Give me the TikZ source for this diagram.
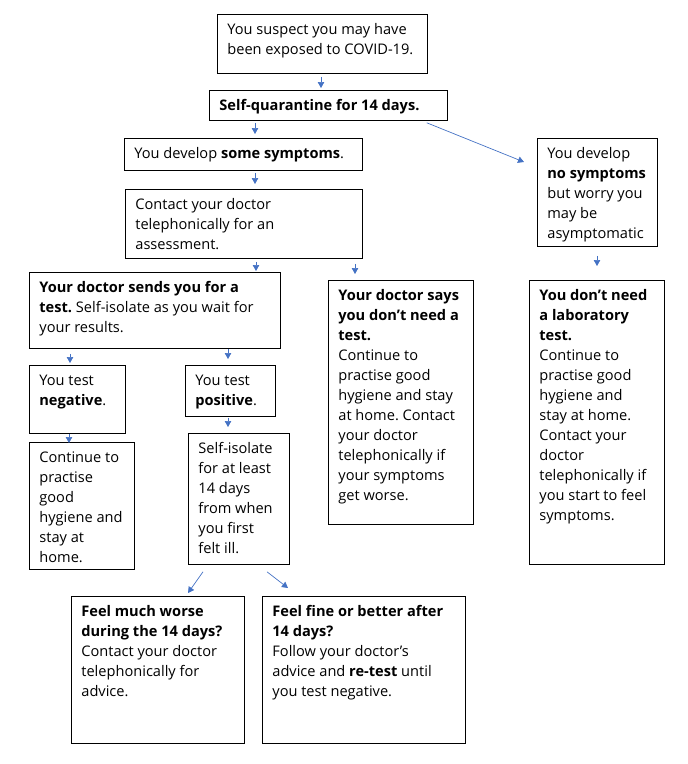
\documentclass[tikz,border=0pt]{standalone}
\usepackage{fontspec}
\setmainfont{Open Sans}
\usetikzlibrary{arrows.meta,calc}
\definecolor{arrblue}{HTML}{4472C4}
\frenchspacing
\newcommand\bt[3]{\parbox[c][#2][t]{#1}{\fontsize{14.6pt}{20pt}\selectfont\frenchspacing\raggedright\strut #3}}
\tikzset{
  bx/.style={draw=black, line width=0.8pt, inner xsep=10pt, inner ysep=6pt, anchor=north west, align=left},
  arr/.style={draw=arrblue, line width=0.7pt, -{Triangle[width=6.5pt,length=6pt]}}
}
\begin{document}
\begin{tikzpicture}[x=1pt,y=-1pt]
\useasboundingbox (0,0) rectangle (688,764);
% boxes: \bt{W-20}{H-12}
\node[bx] (a) at (217,14) {\bt{190pt}{47pt}{You suspect you may have\\been exposed to COVID-19.}};
\node[bx] (b) at (209,90) {\bt{218pt}{18pt}{\textbf{Self-quarantine for 14 days.}}};
\node[bx] (c) at (124,138) {\bt{218pt}{20pt}{You develop \textbf{some symptoms}.}};
\node[bx] (d) at (125,189) {\bt{217pt}{57pt}{Contact your doctor\\telephonically for an\\assessment.}};
\node[bx] (e) at (29,272) {\bt{231pt}{64pt}{\textbf{Your doctor sends you for a}\\\textbf{test.} Self-isolate as you wait for\\your results.}};
\node[bx] (f) at (328,280) {\bt{125pt}{232pt}{\textbf{Your doctor says}\\\textbf{you don’t need a}\\\textbf{test.}\\Continue to\\practise good\\hygiene and stay\\at home. Contact\\your doctor\\telephonically if\\your symptoms\\get worse.}};
\node[bx] (g) at (537,138) {\bt{100pt}{96pt}{You develop\\\textbf{no symptoms}\\but worry you\\may be\\asymptomatic}};
\node[bx] (h) at (529,280) {\bt{115pt}{272pt}{\textbf{You don’t need}\\\textbf{a laboratory}\\\textbf{test.}\\Continue to\\practise good\\hygiene and\\stay at home.\\Contact your\\doctor\\telephonically if\\you start to feel\\symptoms.}};
\node[bx] (i) at (29,365) {\bt{76pt}{56pt}{You test\\\textbf{negative}.}};
\node[bx] (j) at (185,365) {\bt{70pt}{39pt}{You test\\\textbf{positive}.}};
\node[bx] (k) at (29,442) {\bt{85pt}{115pt}{Continue to\\practise\\good\\hygiene and\\stay at\\home.}};
\node[bx] (l) at (188,433) {\bt{81pt}{119pt}{Self-isolate\\for at least\\14 days\\from when\\you first\\felt ill.}};
\node[bx] (m) at (71,596) {\bt{153pt}{135pt}{\textbf{Feel much worse}\\\textbf{during the 14 days?}\\Contact your doctor\\telephonically for\\advice.}};
\node[bx] (n) at (262,596) {\bt{183pt}{135pt}{\textbf{Feel fine or better after}\\\textbf{14 days?}\\Follow your doctor’s\\advice and \textbf{re-test} until\\you test negative.}};
% arrows
\draw[arr] ($(a.south west)+(104,3)$) -- ($(b.north west)+(112,-2)$);
\draw[arr] ($(b.south west)+(46,2)$) -- ($(c.north west)+(131,-4)$);
\draw[arr] ($(c.south west)+(131,2)$) -- ($(d.north west)+(130,-5)$);
\draw[arr] ($(d.south west)+(131,3)$) -- ($(e.north west)+(227,-1)$);
\draw[arr] ($(d.south west)+(230,5)$) -- ($(f.north west)+(27,-6)$);
\draw[arr] ($(b.south east)+(-21,2)$) -- ($(g.north west)+(-13,24)$);
\draw[arr] ($(g.south west)+(60,9)$) -- ($(h.north west)+(68,-14)$);
\draw[arr] ($(e.south west)+(41,5)$) -- ($(i.north west)+(41,-2)$);
\draw[arr] ($(e.south west)+(199,0)$) -- ($(j.north west)+(43,-6)$);
\draw[arr] ($(i.south west)+(40,0)$) -- ($(k.north west)+(40,1)$);
\draw[arr] ($(j.south west)+(43,1)$) -- ($(l.north west)+(40,-6)$);
\draw[arr] ($(l.south west)+(15,7)$) -- ($(m.north west)+(117,-3)$);
\draw[arr] ($(l.south west)+(79,7)$) -- ($(n.north west)+(26,-8)$);
\end{tikzpicture}
\end{document}
